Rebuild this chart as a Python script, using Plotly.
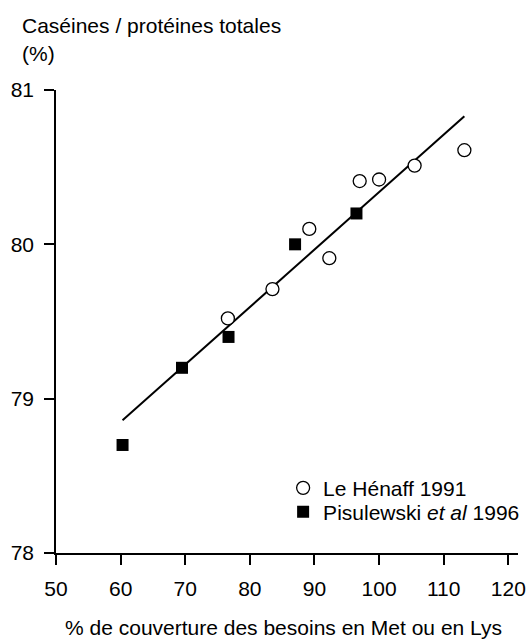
import plotly.graph_objects as go

# Le Hénaff 1991 (open circles)
henaff_x = [76.6, 83.5, 89.2, 92.3, 97.0, 100.0, 105.5, 113.2]
henaff_y = [79.52, 79.71, 80.10, 79.91, 80.41, 80.42, 80.51, 80.61]

# Pisulewski et al 1996 (filled squares)
pisu_x = [60.3, 69.5, 76.7, 87.0, 96.5]
pisu_y = [78.70, 79.20, 79.40, 80.00, 80.20]

# regression line end points
fit_x = [60.3, 113.2]
fit_y = [78.86, 80.83]

x_ticks = [50, 60, 70, 80, 90, 100, 110, 120]
y_ticks = [78, 79, 80, 81]

FONT = "Liberation Sans, Arial, sans-serif"
FS = 21

fig = go.Figure()
fig.add_trace(go.Scatter(x=fit_x, y=fit_y, mode='lines', showlegend=False,
                         line=dict(color='black', width=2)))
fig.add_trace(go.Scatter(x=henaff_x, y=henaff_y, mode='markers', name='Le Hénaff 1991',
                         legend='legend',
                         marker=dict(symbol='circle', size=13, color='white',
                                     line=dict(color='black', width=1.3))))
fig.add_trace(go.Scatter(x=pisu_x, y=pisu_y, mode='markers',
                         name='Pisulewski <i>et al</i> 1996', legend='legend2',
                         marker=dict(symbol='square', size=12, color='black',
                                     line=dict(color='black', width=0))))

leg = dict(xanchor='left', yanchor='middle', bgcolor='rgba(0,0,0,0)',
           font=dict(size=FS), itemsizing='trace')

fig.update_layout(
    width=526, height=640,
    margin=dict(l=56, r=8, t=90, b=87, autoexpand=False),
    plot_bgcolor='white', paper_bgcolor='white',
    font=dict(family=FONT, size=FS, color='black'),
    legend=dict(leg, x=0.4916, y=0.140),
    legend2=dict(leg, x=0.4916, y=0.0886),
    annotations=[
        dict(text='Caséines / protéines totales', xref='paper', yref='paper',
             x=-0.078, y=1.111, xanchor='left', yanchor='bottom', showarrow=False),
        dict(text='(%)', xref='paper', yref='paper',
             x=-0.078, y=1.050, xanchor='left', yanchor='bottom', showarrow=False),
        dict(text='% de couverture des besoins en Met ou en Lys', xref='paper', yref='paper',
             x=0.493, y=-0.160, xanchor='center', yanchor='middle', showarrow=False),
    ],
)
fig.update_xaxes(range=[50, 121.5], tickvals=x_ticks, ticks='outside', ticklen=10,
                 tickwidth=1.5, tickcolor='black', showline=True, linecolor='black',
                 linewidth=1.5, showgrid=False, zeroline=False, automargin=False,
                 ticklabelstandoff=6)
fig.update_yaxes(range=[78, 81], tickvals=y_ticks, ticks='outside', ticklen=10,
                 tickwidth=1.5, tickcolor='black', showline=True, linecolor='black',
                 linewidth=1.5, showgrid=False, zeroline=False, automargin=False,
                 ticklabelstandoff=6)

# drop the default body margin so the figure fills the window exactly
fig.write_html("out.html", config={'displayModeBar': False},
               post_script="document.body.style.margin='0';document.body.style.overflow='hidden';")
